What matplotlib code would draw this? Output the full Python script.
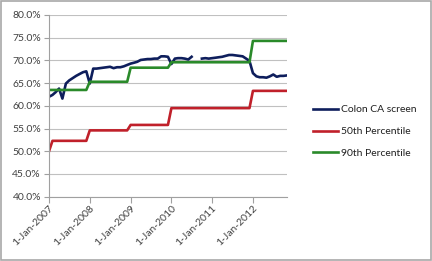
import numpy as np
import pandas as pd
import matplotlib
matplotlib.use("Agg")
import matplotlib.pyplot as plt
from matplotlib.ticker import FuncFormatter
from matplotlib.patches import Rectangle

dates = pd.date_range("2007-01-01", "2012-11-01", freq="MS")

colon = [62.0, 62.4, 63.0, 63.8, 61.6, 64.9, 65.6, 66.1, 66.6, 67.0,
         67.4, 67.6, 64.9, 68.2, 68.2, 68.3, 68.4, 68.5, 68.6, 68.3,
         68.5, 68.5, 68.7, 69.0, 69.3, 69.5, 69.7, 70.1, 70.2, 70.3,
         70.3, 70.4, 70.4, 70.9, 70.9, 70.8, 69.2, 70.4, 70.5, 70.5,
         70.4, 70.2, 70.8, np.nan, np.nan, 70.4, 70.5, 70.4, 70.5, 70.6,
         70.7, 70.8, 71.0, 71.2, 71.2, 71.1, 71.0, 70.9, 70.4, 69.9,
         67.2, 66.5, 66.3, 66.3, 66.2, 66.5, 66.9, 66.4, 66.6, 66.6,
         66.7]

p50_levels = [50.0] + [52.3] * 11 + [54.6] * 12 + [55.8] * 12 + [59.5] * 24 + [63.3] * 11
p90_levels = [63.5] * 12 + [65.3] * 12 + [68.4] * 12 + [69.6] * 24 + [74.3] * 11

series_names = ["Colon CA screen", "50th Percentile", "90th Percentile"]
yticks = [40, 45, 50, 55, 60, 65, 70, 75, 80]
xtick_years = [2007, 2008, 2009, 2010, 2011, 2012]

plt.rcParams['font.family'] = ['Lato', 'DejaVu Sans']

fig = plt.figure(figsize=(4.32, 2.61), dpi=100)
ax = fig.add_axes([49/432, 1 - 196.7/261, (287 - 49)/432, (196.7 - 15)/261])

colors = ["#0e1e5c", "#c0202a", "#2a8a2a"]
lw = 1.9
ax.plot(dates, np.array(colon) / 100, color=colors[0], lw=lw, label=series_names[0], solid_joinstyle='round')
ax.plot(dates, np.array(p50_levels) / 100, color=colors[1], lw=lw, label=series_names[1])
ax.plot(dates, np.array(p90_levels) / 100, color=colors[2], lw=lw, label=series_names[2])

ax.set_ylim(0.40, 0.80)
ax.set_yticks([v / 100 for v in yticks])
ax.yaxis.set_major_formatter(FuncFormatter(lambda v, p: f"{v*100:.1f}%"))
ax.set_xlim(pd.Timestamp("2007-01-01"), pd.Timestamp("2012-11-01"))
ax.set_xticks([pd.Timestamp(f"{y}-01-01") for y in xtick_years])
ax.set_xticklabels([f"1-Jan-{y}" for y in xtick_years], rotation=45, ha='right',
                   rotation_mode='anchor')

ax.grid(axis='y', color='#c0c0c0', lw=0.8)
ax.set_axisbelow(True)
for s in ['top', 'right']:
    ax.spines[s].set_visible(False)
for s in ['left', 'bottom']:
    ax.spines[s].set_color('#a0a0a0')
    ax.spines[s].set_linewidth(0.8)
ax.tick_params(axis='y', length=3.6, direction='out', color='#a0a0a0', labelsize=7.5,
               labelcolor='#404040', pad=2.2)
ax.tick_params(axis='x', length=4, direction='out', color='#a0a0a0', labelsize=7.5,
               labelcolor='#404040', pad=1)

leg = fig.legend(loc='upper left', bbox_to_anchor=(308/432, 1 - 100/261), frameon=False,
                 fontsize=7.5, handlelength=2.4, handletextpad=0.3, labelspacing=1.2,
                 borderpad=0)
for t in leg.get_texts():
    t.set_color('#202020')

fig.patches.append(Rectangle((0.002, 0.004), 0.995, 0.992, transform=fig.transFigure,
                             fill=False, edgecolor='#a8a8a8', lw=1.2))

fig.savefig("out.png", dpi=100)
